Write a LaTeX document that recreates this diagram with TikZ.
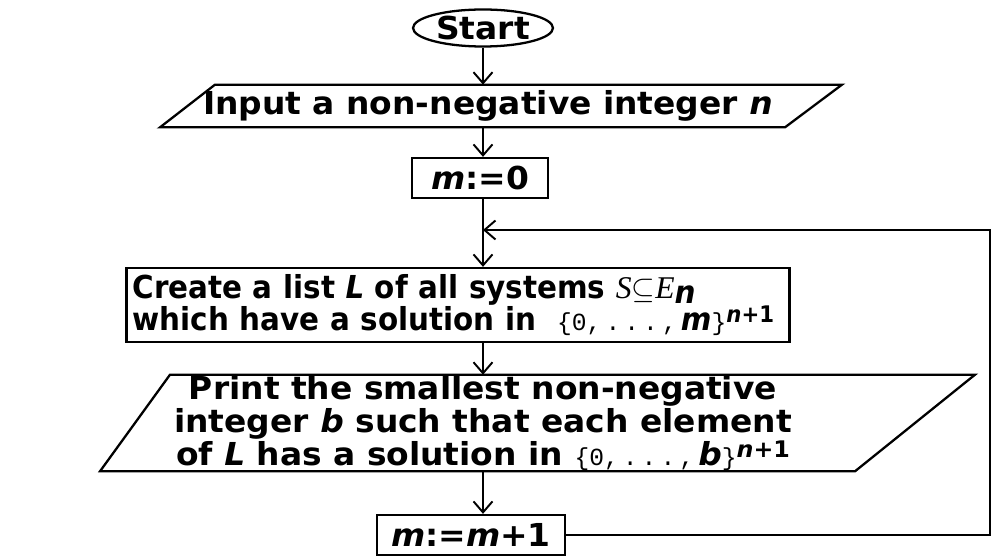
\documentclass[tikz,border=0pt]{standalone}
\usepackage{fontspec}
\setmainfont{DejaVu Sans}
\newfontfamily\widefont{DejaVu Sans}[FakeStretch=1.04]
\newfontfamily\narrowfont{DejaVu Sans}[FakeStretch=0.93]
\newfontfamily\serf{Liberation Serif}
\newfontfamily\mono{Liberation Mono}
\usetikzlibrary{calc,arrows.meta,shapes.geometric}
\tikzset{
  txt/.style={font=\fontsize{18}{19}\selectfont\bfseries\widefont},
  box/.style={txt,draw,line width=1.3pt,rectangle,inner sep=0pt},
  io/.style={txt,rectangle,inner sep=0pt,align=center},
  arr/.style={line width=1.1pt,-{Straight Barb[length=2.2mm,width=3.8mm]}},
  outl/.style={line width=1.3pt}
}
\newcommand{\setto}[1]{{\mono\mdseries\fontsize{14}{14}\selectfont\{0,\,.\,.\,.\,,\,}\textit{#1}{\mono\mdseries\fontsize{14}{14}\selectfont\}}\raisebox{0.5ex}[0pt][0pt]{\fontsize{13}{13}\selectfont\textit{n}+1}}

\begin{document}
\begin{tikzpicture}[x=0.02cm,y=-0.02cm]
\useasboundingbox (0,0) rectangle (992,557);
% blocks
\node[txt,draw,ellipse,line width=1.3pt,minimum width=2.8cm,minimum height=0.74cm,inner sep=0pt] (start) at (483,28) {Start};
\node[io,minimum height=0.84cm] (in) at (488,106) {Input a non-negative integer \textit{n}};
\node[box,minimum width=2.72cm,minimum height=0.8cm] (m0) at (480,178) {\textit{m}:=0};
\node[box,font=\fontsize{18}{17.5}\selectfont\bfseries\narrowfont,minimum width=13.26cm,minimum height=1.48cm,
      inner xsep=0.12cm,text width=13.02cm,align=left] (cl) at (458,305)
  {Create a list \textit{L} of all systems {\serf\mdseries\itshape S}$\subseteq${\serf\mdseries\itshape E}\raisebox{-0.3ex}[0pt][0pt]{\itshape n}\\
   which have a solution in~~\setto{m}};
\node[io,minimum height=1.88cm] (pr) at (483,423)
  {Print the smallest non-negative\\ integer \textit{b} such that each element\\ of \textit{L} has a solution in \setto{b}};
\node[box,minimum width=3.76cm,minimum height=0.8cm] (m1) at (471,535) {\textit{m}:=\textit{m}+1};
% slanted outlines
\draw[outl] ($(in.north)+(-273,0)$) -- ($(in.north)+(354,0)$) -- ($(in.south)+(297,0)$) -- ($(in.south)+(-328,0)$) -- cycle;
\draw[outl] ($(pr.north)+(-313,0)$) -- ($(pr.north)+(492,0)$) -- ($(pr.south)+(372,0)$) -- ($(pr.south)+(-383,0)$) -- cycle;
% flow
\coordinate (join) at (483,230);
\coordinate (corner) at (990,230);
\draw[arr] (start) -- (in.north -| start);
\draw[arr] (in.south -| start) -- (m0.north -| start);
\draw[line width=1.1pt] (m0.south -| start) -- (join);
\draw[arr] (join) -- (cl.north -| start);
\draw[arr] (cl.south -| start) -- (pr.north -| start);
\draw[arr] (pr.south -| start) -- (m1.north -| start);
\draw[arr] (m1.east) -| (corner) -- (join);
\end{tikzpicture}
\end{document}
